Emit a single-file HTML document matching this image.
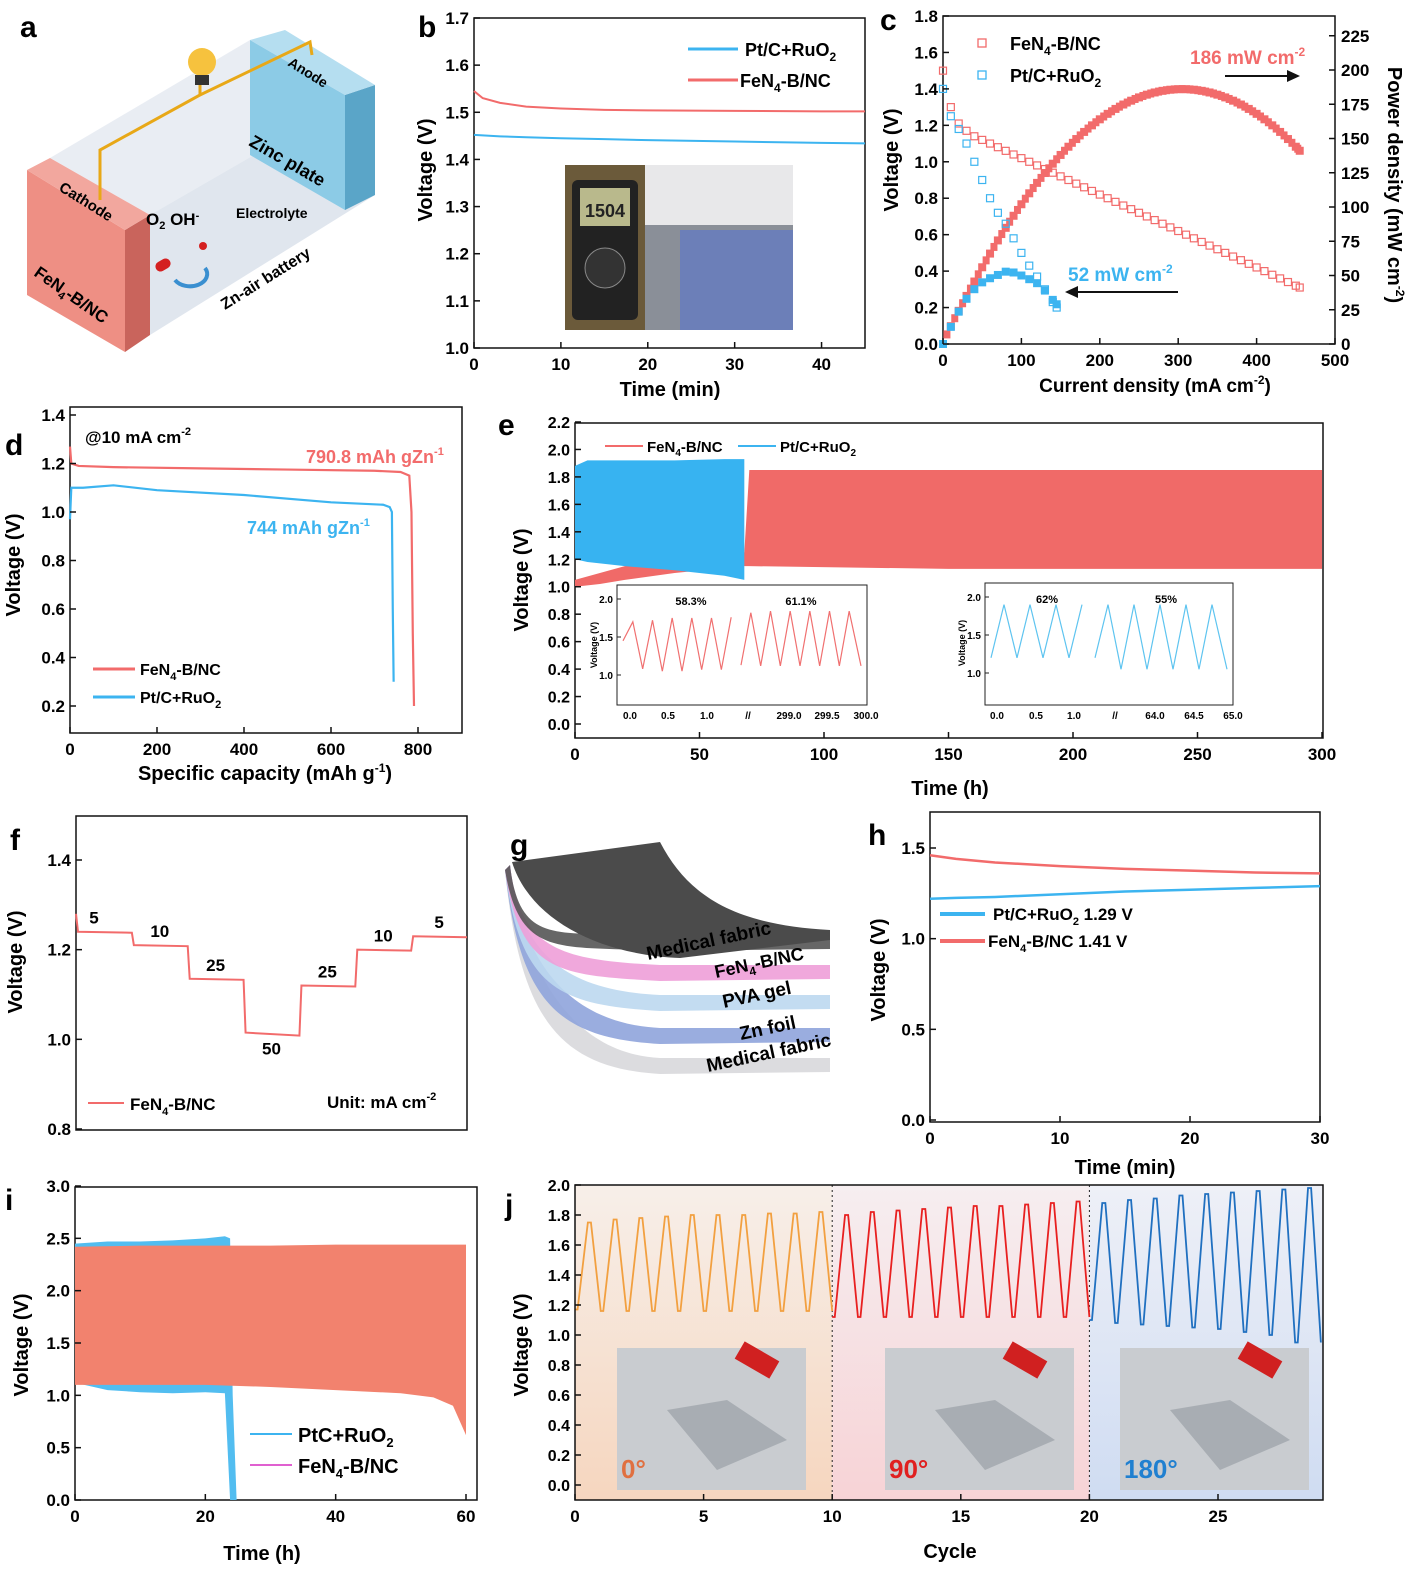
<!DOCTYPE html>
<html><head><meta charset="utf-8">
<style>
html,body{margin:0;padding:0;background:#fff;}
svg{display:block;font-family:"Liberation Sans",Arial,sans-serif;}
text{font-weight:bold;}
</style></head>
<body>
<svg id="fig" width="1424" height="1584" viewBox="0 0 1424 1584" xmlns="http://www.w3.org/2000/svg">
<defs>
<linearGradient id="gOr" x1="0" y1="0" x2="0" y2="1"><stop offset="0" stop-color="#f7efe9"/><stop offset="1" stop-color="#f6d6bf"/></linearGradient>
<linearGradient id="gPk" x1="0" y1="0" x2="0" y2="1"><stop offset="0" stop-color="#f6eef0"/><stop offset="1" stop-color="#f7d3d6"/></linearGradient>
<linearGradient id="gBl" x1="0" y1="0" x2="0" y2="1"><stop offset="0" stop-color="#eef0f7"/><stop offset="1" stop-color="#cfdcf2"/></linearGradient>
</defs>

<!-- Panel a illustration -->
<g>
<polygon points="50,158 250,40 375,85 150,215" fill="#e4e9f0" opacity="0.8"/>
<polygon points="150,215 375,85 375,195 150,335" fill="#d8e0ea" opacity="0.8"/>
<polygon points="27,170 125,230 125,352 27,295" fill="#ee8f84"/>
<polygon points="125,230 150,215 150,335 125,352" fill="#c9645c"/>
<polygon points="27,170 50,158 150,215 125,230" fill="#f2a79e"/>
<polygon points="250,40 345,95 345,210 250,155" fill="#8ccbe6"/>
<polygon points="345,95 375,85 375,195 345,210" fill="#5aa5c8"/>
<polygon points="250,40 285,30 375,85 345,95" fill="#b5def0"/>
<polyline points="100,200 100,150 200,95 200,80 200,95 310,42 312,55" fill="none" stroke="#e8a817" stroke-width="3"/>
<circle cx="202" cy="62" r="14" fill="#f6c23e"/>
<rect x="195" y="75" width="14" height="10" fill="#333"/>
<text x="20" y="37" font-size="30">a</text>
<text x="58" y="190" font-size="15" font-weight="normal" transform="rotate(32 58 190)">Cathode</text>
<text x="33" y="275" font-size="17" transform="rotate(35 33 275)">FeN<tspan font-size="11" dy="4">4</tspan><tspan dy="-4">-B/NC</tspan></text>
<text x="146" y="225" font-size="17" font-weight="normal">O<tspan font-size="11" dy="4">2</tspan><tspan dy="-4"> OH</tspan><tspan font-size="11" dy="-6">-</tspan></text>
<text x="236" y="218" font-size="14" font-weight="normal">Electrolyte</text>
<text x="248" y="145" font-size="18" transform="rotate(30 248 145)">Zinc plate</text>
<text x="287" y="65" font-size="14" font-weight="normal" transform="rotate(32 287 65)">Anode</text>
<text x="225" y="310" font-size="16" transform="rotate(-32 225 310)">Zn-air battery</text>
<rect x="155" y="260" width="16" height="10" rx="5" fill="#d42020" transform="rotate(-30 163 265)"/>
<circle cx="203" cy="246" r="4" fill="#d42020"/>
<path d="M175,280 A14,10 0 1 0 205,268" fill="none" stroke="#3a8fd0" stroke-width="4"/>
</g>

<g id="charts"></g>
</svg>
<script>
const NS="http://www.w3.org/2000/svg";
const root=document.getElementById('charts');
function el(tag,attrs,parent){const e=document.createElementNS(NS,tag);for(const k in attrs)e.setAttribute(k,attrs[k]);(parent||root).appendChild(e);return e;}
function txt(x,y,s,size,parent,extra){const t=el('text',Object.assign({x:x,y:y,'font-size':size},extra||{}),parent);t.innerHTML=s;return t;}
function lin(d0,d1,p0,p1){return v=>p0+(v-d0)*(p1-p0)/(d1-d0);}
function frame(g,x0,y0,x1,y1){el('rect',{x:x0,y:y0,width:x1-x0,height:y1-y0,fill:'none',stroke:'#111','stroke-width':1.5},g);}
function xticks(g,sx,ticks,labels,yb,size,minor){ticks.forEach((v,i)=>{el('line',{x1:sx(v),x2:sx(v),y1:yb,y2:yb-6,stroke:'#111','stroke-width':1.5},g);txt(sx(v),yb+22,labels[i],size||17,g,{'text-anchor':'middle'});});}
function yticks(g,sy,ticks,labels,xl,size,right){ticks.forEach((v,i)=>{el('line',{x1:xl,x2:right?xl-6:xl+6,y1:sy(v),y2:sy(v),stroke:'#111','stroke-width':1.5},g);txt(right?xl+6:xl-5,sy(v)+6,labels[i],size||17,g,{'text-anchor':right?'start':'end'});});}
function poly(g,xs,ys,sx,sy,color,w){el('polyline',{points:xs.map((x,i)=>sx(x)+','+sy(ys[i])).join(' '),fill:'none',stroke:color,'stroke-width':w||2},g);}
function band(g,xs,hi,lo,sx,sy,color){const p=xs.map((x,i)=>sx(x)+','+sy(hi[i])).concat(xs.slice().reverse().map((x,i)=>sx(x)+','+sy(lo[xs.length-1-i])));el('polygon',{points:p.join(' '),fill:color},g);}
const RED='#f26b6b',BLUE='#3cb4f0';

/* ---------- Panel b ---------- */
const bTime=[0,1,3,6,10,15,20,30,40,45];
const bFe=[1.545,1.53,1.52,1.512,1.508,1.505,1.504,1.503,1.502,1.502];
const bPt=[1.452,1.451,1.449,1.447,1.445,1.443,1.441,1.438,1.435,1.434];
const bXT=[0,10,20,30,40], bYT=[1.0,1.1,1.2,1.3,1.4,1.5,1.6,1.7];
(function(){
const g=el('g',{});
const sx=lin(0,45,474,865), sy=lin(1.0,1.7,348,18);
frame(g,474,18,865,348);
const ph=el('rect',{x:565,y:165,width:228,height:165,fill:'#8a8f98'},g);

el('rect',{x:565,y:165,width:80,height:165,fill:'#6b5a3a'},g);el('rect',{x:572,y:180,width:66,height:140,rx:6,fill:'#222'},g);
el('rect',{x:580,y:188,width:50,height:38,fill:'#b9b98c'},g);txt(585,217,'1504',18,g,{fill:'#222'});
el('circle',{cx:605,cy:268,r:20,fill:'#333',stroke:'#888'},g);
el('rect',{x:680,y:230,width:113,height:100,fill:'#6c7fb8'},g);el('rect',{x:645,y:165,width:148,height:60,fill:'#e8e8ea'},g);
poly(g,bTime,bFe,sx,sy,RED,2);poly(g,bTime,bPt,sx,sy,BLUE,2);
xticks(g,sx,bXT,bXT.map(String),348);yticks(g,sy,bYT,bYT.map(v=>v.toFixed(1)),474);
txt(418,37,'b',30,g);
txt(670,396,'Time (min)',20,g,{'text-anchor':'middle'});
txt(432,170,'Voltage (V)',20,g,{'text-anchor':'middle',transform:'rotate(-90 432 170)'});
const l1=el('line',{x1:688,x2:738,y1:49,y2:49,stroke:BLUE,'stroke-width':3},g);
txt(745,56,'Pt/C+RuO<tspan font-size="12" dy="5">2</tspan>',18,g);
el('line',{x1:688,x2:738,y1:80,y2:80,stroke:RED,'stroke-width':3},g);
txt(740,87,'FeN<tspan font-size="12" dy="5">4</tspan><tspan dy="-5">-B/NC</tspan>',18,g);
})();

/* ---------- Panel c ---------- */
const cJFe=[0,10,20,30,40,50,60,70,80,90,100,110,120,130,140,150,160,170,180,190,200,210,220,230,240,250,260,270,280,290,300,310,320,330,340,350,360,370,380,390,400,410,420,430,440,450,455];
const cVFe=[1.50,1.30,1.21,1.17,1.14,1.12,1.10,1.08,1.06,1.04,1.02,1.00,0.98,0.96,0.94,0.92,0.90,0.88,0.86,0.84,0.82,0.80,0.78,0.76,0.74,0.72,0.70,0.68,0.66,0.64,0.62,0.60,0.58,0.56,0.54,0.52,0.50,0.48,0.46,0.44,0.42,0.40,0.38,0.36,0.34,0.32,0.31];
const cJPt=[0,10,20,30,40,50,60,70,80,90,100,110,120,130,140,145];
const cVPt=[1.40,1.25,1.18,1.10,1.00,0.90,0.80,0.72,0.66,0.58,0.50,0.43,0.37,0.30,0.23,0.20];
const cXT=[0,100,200,300,400,500], cYT=[0,0.2,0.4,0.6,0.8,1.0,1.2,1.4,1.6,1.8], cRT=[0,25,50,75,100,125,150,175,200,225];
(function(){
const g=el('g',{});
const sx=lin(0,500,943,1335), sy=lin(0,1.8,344,16), sr=lin(0,200,344,70);
frame(g,943,16,1335,344);
cJFe.forEach((j,i)=>{el('rect',{x:sx(j)-3.5,y:sy(cVFe[i])-3.5,width:7,height:7,fill:'none',stroke:RED,'stroke-width':1.2},g);
 el('rect',{x:sx(j)-4,y:sr(j*cVFe[i])-4,width:8,height:8,fill:RED},g);});
cJFe.slice(0,-1).forEach((j,i)=>{const j2=cJFe[i+1];const jm=(j+j2)/2;el('rect',{x:sx(jm)-3.5,y:sr(jm*(cVFe[i]+cVFe[i+1])/2)-4,width:7,height:8,fill:RED},g);});
cJPt.forEach((j,i)=>{el('rect',{x:sx(j)-3.5,y:sy(cVPt[i])-3.5,width:7,height:7,fill:'none',stroke:BLUE,'stroke-width':1.2},g);
 el('rect',{x:sx(j)-4,y:sr(j*cVPt[i])-4,width:8,height:8,fill:BLUE},g);});
xticks(g,sx,cXT,cXT.map(String),344);yticks(g,sy,cYT,cYT.map(v=>v.toFixed(1)),943);
yticks(g,sr,cRT,cRT.map(String),1335,17,true);
txt(880,30,'c',30,g);
txt(1155,392,'Current density (mA cm<tspan font-size="12" dy="-8">-2</tspan><tspan dy="8">)</tspan>',19,g,{'text-anchor':'middle'});
txt(898,160,'Voltage (V)',20,g,{'text-anchor':'middle',transform:'rotate(-90 898 160)'});
txt(1388,185,'Power density (mW cm<tspan font-size="12" dy="-8">-2</tspan><tspan dy="8">)</tspan>',20,g,{'text-anchor':'middle',transform:'rotate(90 1388 185)'});
el('rect',{x:978,y:39,width:8,height:8,fill:'none',stroke:RED,'stroke-width':1.3},g);txt(1010,50,'FeN<tspan font-size="12" dy="5">4</tspan><tspan dy="-5">-B/NC</tspan>',18,g);
el('rect',{x:978,y:71,width:8,height:8,fill:'none',stroke:BLUE,'stroke-width':1.3},g);txt(1010,82,'Pt/C+RuO<tspan font-size="12" dy="5">2</tspan>',18,g);
txt(1190,64,'186 mW cm<tspan font-size="12" dy="-8">-2</tspan>',19,g,{fill:RED});
el('line',{x1:1225,x2:1290,y1:76,y2:76,stroke:'#111','stroke-width':2},g);el('polygon',{points:'1300,76 1287,70 1287,82',fill:'#111'},g);
txt(1068,281,'52 mW cm<tspan font-size="12" dy="-8">-2</tspan>',19,g,{fill:BLUE});
el('line',{x1:1075,x2:1178,y1:292,y2:292,stroke:'#111','stroke-width':2},g);el('polygon',{points:'1065,292 1078,286 1078,298',fill:'#111'},g);
})();

/* ---------- Panel d ---------- */
const dCapFe=[0,3,20,100,300,500,700,760,780,785,788,790.8];
const dVFe=[1.27,1.20,1.19,1.185,1.18,1.175,1.17,1.165,1.15,1.0,0.5,0.20];
const dCapPt=[0,3,30,100,200,400,600,720,735,740,742,744];
const dVPt=[0.97,1.10,1.10,1.11,1.09,1.07,1.04,1.03,1.02,1.0,0.6,0.30];
const dXT=[0,200,400,600,800], dYT=[0.2,0.4,0.6,0.8,1.0,1.2,1.4];
(function(){
const g=el('g',{});
const sx=lin(0,800,70,418), sy=lin(0.2,1.4,706,415);
frame(g,70,407,462,733);
poly(g,dCapFe,dVFe,sx,sy,RED,2.2);poly(g,dCapPt,dVPt,sx,sy,BLUE,2.2);
xticks(g,sx,dXT,dXT.map(String),733);yticks(g,sy,dYT,dYT.map(v=>v.toFixed(1)),70);
txt(5,455,'d',30,g);
txt(265,780,'Specific capacity (mAh g<tspan font-size="12" dy="-8">-1</tspan><tspan dy="8">)</tspan>',20,g,{'text-anchor':'middle'});
txt(20,565,'Voltage (V)',20,g,{'text-anchor':'middle',transform:'rotate(-90 20 565)'});
txt(85,443,'@10 mA cm<tspan font-size="11" dy="-8">-2</tspan>',17,g);
txt(306,463,'790.8 mAh gZn<tspan font-size="11" dy="-8">-1</tspan>',18,g,{fill:RED});
txt(247,534,'744 mAh gZn<tspan font-size="11" dy="-8">-1</tspan>',18,g,{fill:BLUE});
el('line',{x1:93,x2:135,y1:669,y2:669,stroke:RED,'stroke-width':3},g);txt(140,675,'FeN<tspan font-size="11" dy="5">4</tspan><tspan dy="-5">-B/NC</tspan>',16,g);
el('line',{x1:93,x2:135,y1:697,y2:697,stroke:BLUE,'stroke-width':3},g);txt(140,703,'Pt/C+RuO<tspan font-size="11" dy="5">2</tspan>',16,g);
})();

/* ---------- Panel e ---------- */
const eTFe=[0,10,20,40,68,70,150,300];
const eHiFe=[1.05,1.10,1.15,1.2,1.25,1.85,1.85,1.85];
const eLoFe=[1.0,1.02,1.05,1.1,1.15,1.15,1.13,1.13];
const eTPt=[0,5,20,40,60,68];
const eHiPt=[1.88,1.92,1.92,1.92,1.93,1.93];
const eLoPt=[1.2,1.18,1.15,1.12,1.08,1.05];
const eXT=[0,50,100,150,200,250,300], eYT=[0,0.2,0.4,0.6,0.8,1.0,1.2,1.4,1.6,1.8,2.0,2.2];
const eIn1Peaks=[1.7,1.72,1.75,1.75,1.75,1.76,1.82,1.84,1.84,1.84,1.84,1.84];
const eIn1Troughs=[1.45,1.08,1.05,1.05,1.07,1.07,1.13,1.12,1.12,1.12,1.12,1.12];
const eIn2Peaks=[1.9,1.9,1.9,1.9,1.9,1.9,1.9,1.9,1.9];
const eIn2Troughs=[1.2,1.2,1.2,1.2,1.2,1.05,1.05,1.05,1.05];
(function(){
const g=el('g',{});
const sx=lin(0,300,575,1322), sy=lin(0,2.2,724,422);
frame(g,575,423,1323,738);
band(g,eTFe,eHiFe,eLoFe,sx,sy,'#f06a68');band(g,eTPt,eHiPt,eLoPt,sx,sy,'#37b3f1');
xticks(g,sx,eXT,eXT.map(String),738);yticks(g,sy,eYT,eYT.map(v=>v.toFixed(1)),575,16);
txt(498,435,'e',30,g);
txt(950,795,'Time (h)',20,g,{'text-anchor':'middle'});
txt(528,580,'Voltage (V)',20,g,{'text-anchor':'middle',transform:'rotate(-90 528 580)'});
el('line',{x1:605,x2:643,y1:446,y2:446,stroke:RED,'stroke-width':2},g);txt(647,452,'FeN<tspan font-size="10" dy="4">4</tspan><tspan dy="-4">-B/NC</tspan>',15,g);
el('line',{x1:738,x2:776,y1:446,y2:446,stroke:BLUE,'stroke-width':2},g);txt(780,452,'Pt/C+RuO<tspan font-size="10" dy="4">2</tspan>',15,g);
function inset(x0,y0,x1,y1,peaks,troughs,color,split,xl,xlx,pct,pctx){
 const ig=el('g',{},g);
 el('rect',{x:x0,y:y0,width:x1-x0,height:y1-y0,fill:'#fff',stroke:'#222','stroke-width':1},ig);
 const syi=lin(1.0,2.0,y0+90,y0+14);
 [1.0,1.5,2.0].forEach(v=>{txt(x0-4,syi(v)+4,v.toFixed(1),10,ig,{'text-anchor':'end'});el('line',{x1:x0,x2:x0+4,y1:syi(v),y2:syi(v),stroke:'#222'},ig);});
 txt(x0-20,y0+60,'Voltage (V)',9,ig,{'text-anchor':'middle',transform:'rotate(-90 '+(x0-20)+' '+(y0+60)+')'});
 xl.forEach((s,i)=>txt(xlx[i],y1+14,s,10,ig,{'text-anchor':'middle','font-weight':'normal'}));
 const n=peaks.length, w=(x1-x0-14)/(n*2);
 let pts=[];for(let i=0;i<n;i++){const xa=x0+6+i*2*w;if(i===split&&i>0){el('polyline',{points:pts.join(' '),fill:'none',stroke:color,'stroke-width':1.2},ig);pts=[];}
  pts.push(xa+','+syi(troughs[i]));pts.push((xa+w)+','+syi(peaks[i]));}
 pts.push((x1-6)+','+syi(troughs[n-1]));
 el('polyline',{points:pts.join(' '),fill:'none',stroke:color,'stroke-width':1.2},ig);
 pct.forEach((s,i)=>txt(pctx[i],y0+20,s,11,ig,{'text-anchor':'middle'}));
}
inset(617,585,867,705,eIn1Peaks,eIn1Troughs,'#f07070',6,['0.0','0.5','1.0','//','299.0','299.5','300.0'],[630,668,707,748,789,827,866],['58.3%','61.1%'],[691,801]);
inset(985,583,1233,705,eIn2Peaks,eIn2Troughs,'#5ec4f0',4,['0.0','0.5','1.0','//','64.0','64.5','65.0'],[997,1036,1074,1115,1155,1194,1233],['62%','55%'],[1047,1166]);
})();

/* ---------- Panel f ---------- */
const fRate=[5,10,25,50,25,10,5];
const fV=[1.24,1.21,1.135,1.015,1.12,1.20,1.23];
const fYT=[0.8,1.0,1.2,1.4];
(function(){
const g=el('g',{});
const sy=lin(0.8,1.4,1129,860), segW=(467-76)/fRate.length;
frame(g,76,816,467,1130);
let pts=[[76,sy(1.28)]];
fV.forEach((v,i)=>{const xa=76+i*segW;pts.push([xa+2,sy(v)]);pts.push([xa+segW,sy(v)+(i===3?3:1)]);
 txt(xa+segW/2-(i===0?10:0),sy(v)-(i===3?-22:8),String(fRate[i]),17,g,{'text-anchor':'middle'});});
el('polyline',{points:pts.map(p=>p.join(',')).join(' '),fill:'none',stroke:RED,'stroke-width':2},g);
yticks(g,sy,fYT,fYT.map(v=>v.toFixed(1)),76);
txt(10,850,'f',30,g);
txt(22,962,'Voltage (V)',20,g,{'text-anchor':'middle',transform:'rotate(-90 22 962)'});
el('line',{x1:88,x2:124,y1:1103,y2:1103,stroke:RED,'stroke-width':2},g);txt(130,1110,'FeN<tspan font-size="11" dy="5">4</tspan><tspan dy="-5">-B/NC</tspan>',17,g);
txt(327,1108,'Unit: mA cm<tspan font-size="11" dy="-8">-2</tspan>',17,g);
})();

/* ---------- Panel g illustration ---------- */
(function(){
const g=el('g',{});
const layers=[['#d8d8dc',1048],['#8fa4dc',1018],['#bcd8ef',985],['#ee9fd8',955],['#555',925]];
layers.forEach((l,i)=>{const off=(4-i)*30;el('path',{d:'M510,'+(865)+' C520,950 560,'+(l[1]+5)+' 660,'+(l[1]+10)+' L830,'+(l[1]+10)+' L830,'+(l[1]+24)+' L660,'+(l[1]+26)+' C560,'+(l[1]+20)+' 520,'+(960+off/2)+' 505,'+(870)+' Z',fill:l[0],opacity:0.9},g);});
el('path',{d:'M512,862 L660,842 C690,900 740,925 830,930 L830,940 L680,958 C600,955 530,920 512,862 Z',fill:'#4b4b4b'},g);
txt(510,855,'g',30,g);
txt(648,960,'Medical fabric',19,g,{transform:'rotate(-12 648 960)'});
txt(716,978,'FeN<tspan font-size="12" dy="5">4</tspan><tspan dy="-5">-B/NC</tspan>',18,g,{transform:'rotate(-12 716 978)'});
txt(724,1008,'PVA gel',19,g,{transform:'rotate(-12 724 1008)'});
txt(741,1040,'Zn foil',19,g,{transform:'rotate(-12 741 1040)'});
txt(708,1072,'Medical fabric',19,g,{transform:'rotate(-12 708 1072)'});
})();

/* ---------- Panel h ---------- */
const hT=[0,2,5,10,15,20,25,30];
const hFe=[1.46,1.44,1.42,1.40,1.385,1.375,1.365,1.36];
const hPt=[1.22,1.225,1.23,1.245,1.26,1.27,1.28,1.29];
const hXT=[0,10,20,30], hYT=[0,0.5,1.0,1.5];
(function(){
const g=el('g',{});
const sx=lin(0,30,930,1320), sy=lin(0,1.5,1120,848);
frame(g,930,812,1320,1122);
poly(g,hT,hFe,sx,sy,RED,2.5);poly(g,hT,hPt,sx,sy,BLUE,2.5);
xticks(g,sx,hXT,hXT.map(String),1122);yticks(g,sy,hYT,hYT.map(v=>v.toFixed(1)),930);
txt(868,845,'h',30,g);
txt(1125,1174,'Time (min)',20,g,{'text-anchor':'middle'});
txt(885,970,'Voltage (V)',20,g,{'text-anchor':'middle',transform:'rotate(-90 885 970)'});
el('line',{x1:940,x2:985,y1:914,y2:914,stroke:BLUE,'stroke-width':4},g);txt(993,920,'Pt/C+RuO<tspan font-size="11" dy="5">2</tspan><tspan dy="-5"> 1.29 V</tspan>',17,g);
el('line',{x1:940,x2:985,y1:941,y2:941,stroke:RED,'stroke-width':4},g);txt(988,947,'FeN<tspan font-size="11" dy="5">4</tspan><tspan dy="-5">-B/NC 1.41 V</tspan>',17,g);
})();

/* ---------- Panel i ---------- */
const iTFe=[0,10,20,30,40,50,55,58,60];
const iHiFe=[2.42,2.43,2.43,2.43,2.44,2.44,2.44,2.44,2.44];
const iLoFe=[1.10,1.10,1.10,1.08,1.05,1.02,0.98,0.90,0.62];
const iTPt=[0,5,10,15,20,23,23.8,24.2,24.8];
const iHiPt=[2.45,2.47,2.47,2.48,2.5,2.52,2.5,1.0,0.0];
const iLoPt=[1.12,1.05,1.03,1.02,1.03,1.02,0.0,0.0,0.0];
const iXT=[0,20,40,60], iYT=[0,0.5,1.0,1.5,2.0,2.5,3.0];
(function(){
const g=el('g',{});
const sx=lin(0,60,75,466), sy=lin(0,3.0,1500,1186);
frame(g,75,1187,477,1500);
band(g,iTPt,iHiPt,iLoPt,sx,sy,'#52bdf0');band(g,iTFe,iHiFe,iLoFe,sx,sy,'#f2826e');
xticks(g,sx,iXT,iXT.map(String),1500);yticks(g,sy,iYT,iYT.map(v=>v.toFixed(1)),75);
txt(5,1210,'i',30,g);
txt(262,1560,'Time (h)',20,g,{'text-anchor':'middle'});
txt(28,1345,'Voltage (V)',20,g,{'text-anchor':'middle',transform:'rotate(-90 28 1345)'});
el('line',{x1:250,x2:292,y1:1434,y2:1434,stroke:BLUE,'stroke-width':2},g);txt(298,1442,'PtC+RuO<tspan font-size="13" dy="5">2</tspan>',20,g);
el('line',{x1:250,x2:292,y1:1465,y2:1465,stroke:'#e060d0','stroke-width':2},g);txt(298,1473,'FeN<tspan font-size="13" dy="5">4</tspan><tspan dy="-5">-B/NC</tspan>',20,g);
})();

/* ---------- Panel j ---------- */
const jPeak0=[1.75,1.77,1.78,1.79,1.8,1.8,1.8,1.81,1.81,1.82];
const jPeak90=[1.8,1.82,1.83,1.84,1.85,1.86,1.86,1.87,1.88,1.89];
const jPeak180=[1.88,1.9,1.91,1.93,1.94,1.95,1.96,1.97,1.98];
const jTrough0=[1.17,1.16,1.16,1.16,1.16,1.16,1.16,1.16,1.16,1.16];
const jTrough90=[1.12,1.12,1.12,1.12,1.12,1.12,1.12,1.12,1.12,1.12];
const jTrough180=[1.1,1.08,1.07,1.06,1.05,1.04,1.02,1.0,0.95];
const jXT=[0,5,10,15,20,25], jYT=[0,0.2,0.4,0.6,0.8,1.0,1.2,1.4,1.6,1.8,2.0];
(function(){
const g=el('g',{});
const sx=lin(0,25,575,1218), sy=lin(0,2.0,1485,1185);
el('rect',{x:575,y:1185,width:sx(10)-575,height:315,fill:'url(#gOr)'},g);
el('rect',{x:sx(10),y:1185,width:sx(20)-sx(10),height:315,fill:'url(#gPk)'},g);
el('rect',{x:sx(20),y:1185,width:1323-sx(20),height:315,fill:'url(#gBl)'},g);
[10,20].forEach(v=>el('line',{x1:sx(v),x2:sx(v),y1:1185,y2:1500,stroke:'#222','stroke-dasharray':'2,3'},g));
function wave(c0,peaks,troughs,color){let pts=[];const n=peaks.length;
 for(let i=0;i<n;i++){pts.push(sx(c0+i)+','+sy(troughs[i]));pts.push(sx(c0+i+0.1)+','+sy(troughs[i]));pts.push(sx(c0+i+0.5)+','+sy(peaks[i]));pts.push(sx(c0+i+0.62)+','+sy(peaks[i]));}
 pts.push(sx(c0+n)+','+sy(troughs[n-1]));el('polyline',{points:pts.join(' '),fill:'none',stroke:color,'stroke-width':1.8},g);}
wave(0,jPeak0,jTrough0,'#f2a040');wave(10,jPeak90,jTrough90,'#e82020');wave(20,jPeak180,jTrough180,'#2070c0');
[[617,'0°','#e07040'],[885,'90°','#e02020'],[1120,'180°','#2080d0']].forEach((p,i)=>{
 const r=el('rect',{x:p[0],y:1348,width:189,height:142,fill:'#c9ccd0'},g);
 el('path',{d:'M'+(p[0]+50)+',1410 l60,-10 l60,40 l-70,30 z',fill:'#9aa0a6',opacity:0.7},g);
 el('rect',{x:p[0]+120,y:1350,width:40,height:20,fill:'#d02020',transform:'rotate(30 '+(p[0]+140)+' 1360)'},g);
 txt(p[0]+4,1478,p[1],26,g,{fill:p[2]});});
frame(g,575,1185,1323,1500);
xticks(g,sx,jXT,jXT.map(String),1500);yticks(g,sy,jYT,jYT.map(v=>v.toFixed(1)),575,16);
txt(505,1215,'j',30,g);
txt(950,1558,'Cycle',20,g,{'text-anchor':'middle'});
txt(528,1345,'Voltage (V)',20,g,{'text-anchor':'middle',transform:'rotate(-90 528 1345)'});
})();
</script>
</body></html>
